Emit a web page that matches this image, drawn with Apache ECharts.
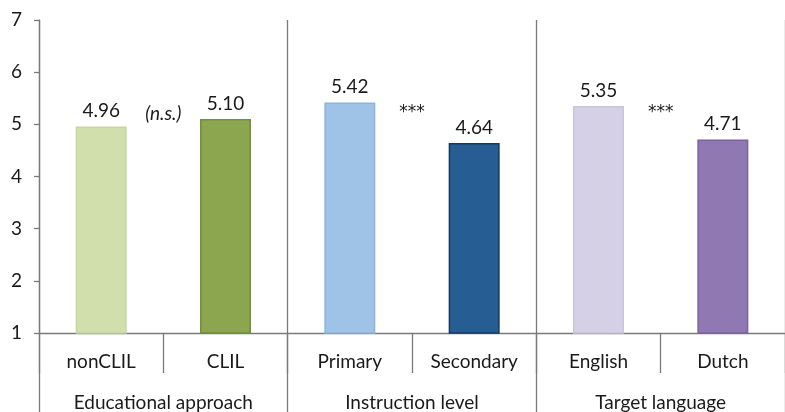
<!DOCTYPE html>
<html>
<head>
<meta charset="utf-8">
<script src="https://cdn.jsdelivr.net/npm/echarts@6/dist/echarts.min.js"></script>
<style>
html,body{margin:0;padding:0;background:#fff;}
#c{width:785px;height:412px;}
</style>
</head>
<body>
<div id="c"></div>
<script>
const categories = ['nonCLIL', 'CLIL', 'Primary', 'Secondary', 'English', 'Dutch'];
const groups = ['Educational approach', 'Instruction level', 'Target language'];
const values = [4.96, 5.10, 5.42, 4.64, 5.35, 4.71];
const barColors = ['#d0dfac', '#8ba64e', '#9fc2e7', '#265d92', '#d5d0e6', '#9079b2'];
const borderColors = ['#c6d79f', '#718e3a', '#8fb3da', '#163a5e', '#cac4de', '#7a639f'];
const annotations = [
  { text: '(n.s.)', left: 0, value: 5.21, italic: true },
  { text: '***', left: 2, value: 5.22, italic: false },
  { text: '***', left: 4, value: 5.22, italic: false }
];
const yTicks = { min: 1, max: 7, interval: 1 };

const FONT = 'Lato';
const FS = 19;
const TXT = '#1a1a1a';
const AX = '#7a7a7a';

const chart = echarts.init(document.getElementById('c'));
const option = {
  animation: false,
  grid: { left: 39, top: 20, width: 753, height: 313 },
  xAxis: [
    {
      type: 'category',
      data: categories,
      position: 'bottom',
      axisLine: { show: true, lineStyle: { color: AX, width: 1.3 } },
      axisTick: { show: true, length: 40, lineStyle: { color: AX, width: 1.3 } },
      axisLabel: { margin: 19, fontFamily: FONT, fontSize: FS, color: TXT }
    },
    {
      type: 'category',
      data: groups,
      position: 'bottom',
      axisLine: { show: false },
      axisTick: { show: true, length: 79, lineStyle: { color: AX, width: 1.3 } },
      axisLabel: { margin: 60, fontFamily: FONT, fontSize: FS, color: TXT },
      splitLine: { show: true, lineStyle: { color: AX, width: 1.3 } }
    }
  ],
  yAxis: {
    type: 'value',
    min: yTicks.min, max: yTicks.max, interval: yTicks.interval,
    axisLine: { show: true, lineStyle: { color: AX, width: 1.3 } },
    axisTick: { show: true, length: 5, lineStyle: { color: AX, width: 1.3 } },
    splitLine: { show: false },
    axisLabel: { margin: 17, fontFamily: FONT, fontSize: FS, color: TXT }
  },
  series: [{
    type: 'bar',
    xAxisIndex: 0,
    barWidth: 51,
    data: values.map((v, i) => ({
      value: v,
      itemStyle: { color: barColors[i], borderColor: borderColors[i], borderWidth: 1.5 }
    })),
    label: {
      show: true, position: 'top', distance: 6,
      fontFamily: FONT, fontSize: FS, color: TXT,
      formatter: p => p.value.toFixed(2)
    }
  }]
};
chart.setOption(option);

const gfx = annotations.map(a => {
  const p1 = chart.convertToPixel({ xAxisIndex: 0, yAxisIndex: 0 }, [a.left, a.value]);
  const p2 = chart.convertToPixel({ xAxisIndex: 0, yAxisIndex: 0 }, [a.left + 1, a.value]);
  return {
    type: 'text',
    x: (p1[0] + p2[0]) / 2,
    y: p1[1],
    style: {
      text: a.text,
      fontFamily: a.italic ? FONT : 'DejaVu Sans',
      fontSize: a.italic ? 19 : 17,
      fontStyle: a.italic ? 'italic' : 'normal', fill: TXT,
      align: 'center', verticalAlign: 'middle'
    }
  };
});
chart.setOption({ graphic: gfx });
</script>
</body>
</html>
